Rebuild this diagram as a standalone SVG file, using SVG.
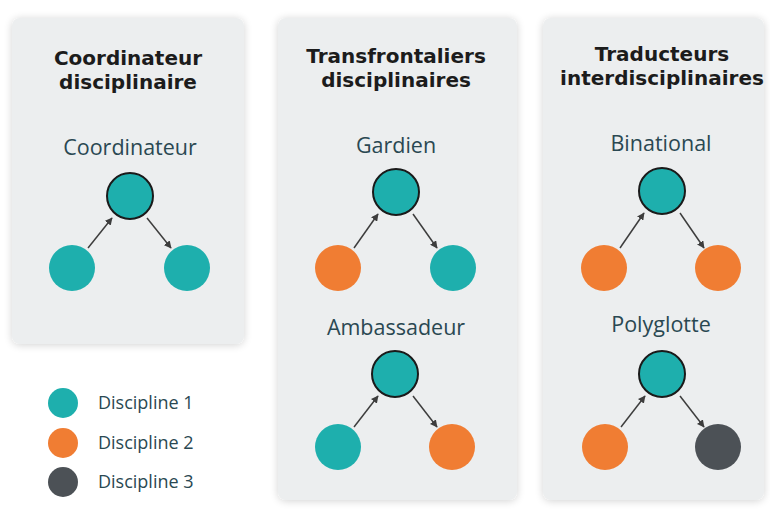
<svg xmlns="http://www.w3.org/2000/svg" width="770" height="512" viewBox="0 0 770 512">
<defs>
<filter id="sh" x="-10%" y="-10%" width="120%" height="120%">
<feGaussianBlur in="SourceAlpha" stdDeviation="4"/>
<feOffset dx="0" dy="1" result="b"/>
<feComponentTransfer><feFuncA type="linear" slope="0.18"/></feComponentTransfer>
<feMerge><feMergeNode/><feMergeNode in="SourceGraphic"/></feMerge>
</filter>
<marker id="ah" viewBox="0 0 10 10" refX="9" refY="5" markerWidth="5" markerHeight="5" orient="auto">
<path d="M0,0 L10,5 L0,10 z" fill="#3d3d3d"/>
</marker>
</defs>
<style>
.panel{fill:#eceeef;filter:url(#sh)}
.title{font-family:"DejaVu Sans",sans-serif;font-weight:700;font-size:20px;fill:#1c1c1c;text-anchor:middle}
.sub{font-family:"Open Sans","Noto Sans",sans-serif;font-size:21.5px;fill:#2a4852;text-anchor:middle}
.leg{font-family:"Open Sans","Noto Sans",sans-serif;font-size:18px;fill:#2a4852}
.d1{fill:#1eafad}
.d2{fill:#f07d33}
.d3{fill:#4c5156}
.top{stroke:#1a1a1a;stroke-width:2}
.conn{stroke:#3d3d3d;stroke-width:1.5;fill:none;marker-end:url(#ah)}
</style>
<rect width="770" height="512" fill="#ffffff"/>
<g id="panel1">
<rect class="panel" x="12" y="18" width="232" height="326" rx="8"/>
<text class="title" x="128" y="65">Coordinateur</text>
<text class="title" x="128" y="89">disciplinaire</text>
<text class="sub" x="130" y="155">Coordinateur</text>
</g>
<g id="panel2">
<rect class="panel" x="278" y="18" width="239" height="482" rx="8"/>
<text class="title" x="396" y="63">Transfrontaliers</text>
<text class="title" x="396" y="87">disciplinaires</text>
<text class="sub" x="396" y="153">Gardien</text>
<text class="sub" x="396" y="335">Ambassadeur</text>
</g>
<g id="panel3">
<rect class="panel" x="543" y="18" width="221" height="482" rx="8"/>
<text class="title" x="662" y="61">Traducteurs</text>
<text class="title" x="662" y="85">interdisciplinaires</text>
<text class="sub" x="661" y="151">Binational</text>
<text class="sub" x="661" y="332">Polyglotte</text>
</g>
<g id="connectors">
<line class="conn" x1="88" y1="248" x2="112" y2="218"/>
<line class="conn" x1="147" y1="218" x2="171" y2="248"/>
<line class="conn" x1="354" y1="248" x2="378" y2="214"/>
<line class="conn" x1="413" y1="214" x2="437" y2="248"/>
<line class="conn" x1="620" y1="248" x2="644" y2="213"/>
<line class="conn" x1="680" y1="213" x2="704" y2="248"/>
<line class="conn" x1="354" y1="427" x2="378" y2="396"/>
<line class="conn" x1="413" y1="396" x2="437" y2="427"/>
<line class="conn" x1="621" y1="427" x2="645" y2="396"/>
<line class="conn" x1="680" y1="396" x2="704" y2="427"/>
</g>
<g id="n-coord-top"><circle class="d1 top" cx="130" cy="196" r="23"/></g>
<g id="n-coord-left"><circle class="d1" cx="72" cy="268" r="23"/></g>
<g id="n-coord-right"><circle class="d1" cx="187" cy="268" r="23"/></g>
<g id="n-gard-top"><circle class="d1 top" cx="396" cy="192" r="23"/></g>
<g id="n-gard-left"><circle class="d2" cx="338" cy="268" r="23"/></g>
<g id="n-gard-right"><circle class="d1" cx="453" cy="268" r="23"/></g>
<g id="n-amb-top"><circle class="d1 top" cx="395" cy="374" r="23"/></g>
<g id="n-amb-left"><circle class="d1" cx="338" cy="447" r="23"/></g>
<g id="n-amb-right"><circle class="d2" cx="452" cy="447" r="23"/></g>
<g id="n-bin-top"><circle class="d1 top" cx="662" cy="191" r="23"/></g>
<g id="n-bin-left"><circle class="d2" cx="604" cy="268" r="23"/></g>
<g id="n-bin-right"><circle class="d2" cx="718" cy="268" r="23"/></g>
<g id="n-poly-top"><circle class="d1 top" cx="662" cy="374" r="23"/></g>
<g id="n-poly-left"><circle class="d2" cx="605" cy="447" r="23"/></g>
<g id="n-poly-right"><circle class="d3" cx="718" cy="447" r="23"/></g>
<g id="legend">
<circle class="d1" cx="63" cy="403" r="15"/>
<text class="leg" x="98" y="409">Discipline 1</text>
<circle class="d2" cx="63" cy="443" r="15"/>
<text class="leg" x="98" y="449">Discipline 2</text>
<circle class="d3" cx="63" cy="482" r="15"/>
<text class="leg" x="98" y="488">Discipline 3</text>
</g>
</svg>
